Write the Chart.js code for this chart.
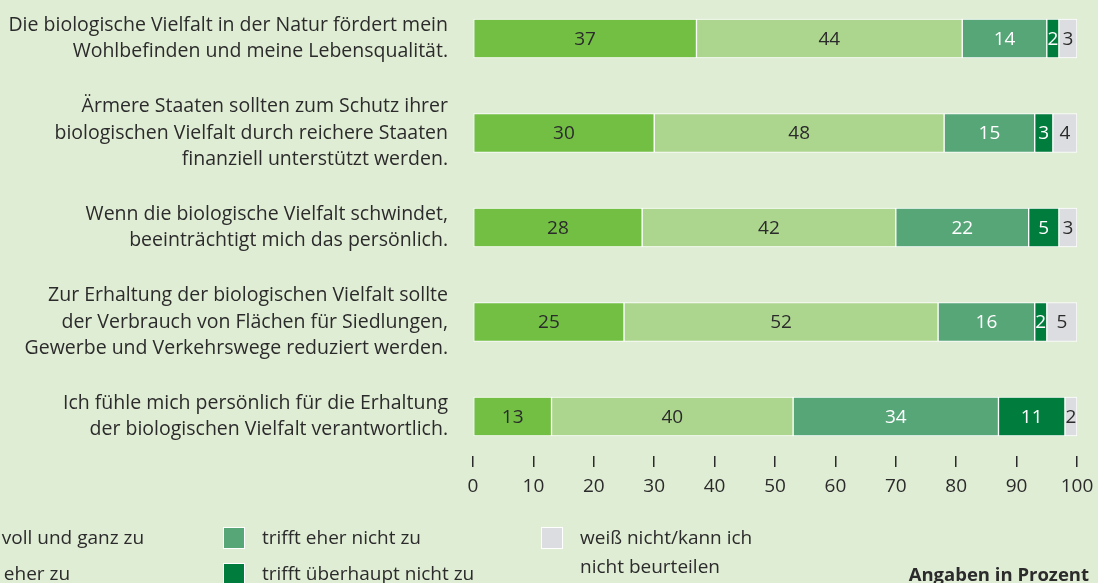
<!DOCTYPE html>
<html>
<head>
<meta charset="utf-8">
<script src="https://cdn.jsdelivr.net/npm/chart.js@4.4.1/dist/chart.umd.min.js"></script>
<style>
  html, body { margin: 0; padding: 0; background: #e0edd5; overflow: hidden; }
  #wrap { position: relative; width: 1098px; height: 583px; }
  #myChart { position: absolute; left: 0; top: 0; }
  .leg { position: absolute; font-family: "Open Sans", sans-serif; font-size: 19px; color: #2b2b2b; line-height: 29px; }
  .leg .box { position: absolute; left: 0; top: 2px; width: 20px; height: 20px; border: 1px solid #fff; }
  .leg .txt { position: absolute; left: 39px; top: -2px; white-space: nowrap; }
  #unit { position: absolute; right: 9px; top: 563px; font-family: "Open Sans", sans-serif; font-size: 18.5px; font-weight: bold; color: #2b2b2b; line-height: 22px; }
</style>
</head>
<body>
<div id="wrap">
  <canvas id="myChart" width="1098" height="583"></canvas>
  <div id="legend"></div>
  <div id="unit">Angaben in Prozent</div>
</div>
<script>
const statements = [
    ['Die biologische Vielfalt in der Natur fördert mein', 'Wohlbefinden und meine Lebensqualität.'],
    ['Ärmere Staaten sollten zum Schutz ihrer', 'biologischen Vielfalt durch reichere Staaten', 'finanziell unterstützt werden.'],
    ['Wenn die biologische Vielfalt schwindet,', 'beeinträchtigt mich das persönlich.'],
    ['Zur Erhaltung der biologischen Vielfalt sollte', 'der Verbrauch von Flächen für Siedlungen,', 'Gewerbe und Verkehrswege reduziert werden.'],
    ['Ich fühle mich persönlich für die Erhaltung', 'der biologischen Vielfalt verantwortlich.']
];

const answers = [
    'trifft voll und ganz zu',
    'trifft eher zu',
    'trifft eher nicht zu',
    'trifft überhaupt nicht zu',
    ['weiß nicht/kann ich', 'nicht beurteilen']
];

const vollUndGanz     = [37, 30, 28, 25, 13];
const eherZu          = [44, 48, 42, 52, 40];
const eherNicht       = [14, 15, 22, 16, 34];
const ueberhauptNicht = [2, 3, 5, 2, 11];
const weissNicht      = [3, 4, 3, 5, 2];

const xTicks = [0, 10, 20, 30, 40, 50, 60, 70, 80, 90, 100];

// styling
const fills = ['#72bf44', '#acd58e', '#56a678', '#007c3c', '#dcdde0'];
const labelColors = ['#2b2b2b', '#2b2b2b', '#ffffff', '#ffffff', '#2b2b2b'];
const legendPos = [
    [-81, 525], [-79, 561], [223, 525], [223, 561], [541, 525]
];
const FONT = '"Open Sans", sans-serif';

const series = [vollUndGanz, eherZu, eherNicht, ueberhauptNicht, weissNicht];

const data = {
    labels: statements,
    datasets: series.map((vals, i) => ({
        label: Array.isArray(answers[i]) ? answers[i].join(' ') : answers[i],
        data: vals,
        backgroundColor: fills[i],
        borderColor: '#ffffff',
        borderWidth: 1,
        borderSkipped: false,
        barThickness: 39
    }))
};

// draws the numbers inside each segment
const segmentLabels = {
    id: 'segmentLabels',
    afterDatasetsDraw(chart) {
        const ctx = chart.ctx;
        ctx.save();
        ctx.font = '19px ' + FONT;
        ctx.textAlign = 'center';
        ctx.textBaseline = 'middle';
        chart.data.datasets.forEach((ds, di) => {
            const meta = chart.getDatasetMeta(di);
            ctx.fillStyle = labelColors[di];
            meta.data.forEach((el, i) => {
                ctx.fillText(String(ds.data[i]), (el.x + el.base) / 2, el.y + 1);
            });
        });
        ctx.restore();
    }
};

const config = {
    type: 'bar',
    data: data,
    options: {
        indexAxis: 'y',
        responsive: false,
        animation: false,
        layout: {
            padding: { top: 0, right: 21, bottom: 0, left: 0 }
        },
        scales: {
            x: {
                stacked: true,
                min: 0,
                max: 100,
                afterBuildTicks: (scale) => {
                    scale.ticks = xTicks.map(v => ({ value: v }));
                },
                afterFit: (scale) => {
                    scale.height = 127;
                    scale.paddingLeft = 0;
                    scale.paddingRight = 0;
                },
                grid: {
                    drawOnChartArea: false,
                    drawTicks: true,
                    tickLength: 11,
                    color: '#2b2b2b',
                    lineWidth: 1.5
                },
                border: { display: false },
                ticks: {
                    color: '#2b2b2b',
                    font: { family: FONT, size: 19 },
                    padding: 8,
                    maxRotation: 0
                }
            },
            y: {
                stacked: true,
                // put bar centres where the picture has them, leave room above the tick marks
                afterBuildTicks: (scale) => {
                    scale._startValue = -0.407;
                    scale._valueRange = 4.825;
                },
                afterFit: (scale) => {
                    scale.width = 473;
                    scale.paddingTop = 0;
                    scale.paddingBottom = 0;
                },
                grid: { display: false, drawTicks: false },
                border: { display: false },
                ticks: {
                    color: '#2b2b2b',
                    font: { family: FONT, size: 19.5, lineHeight: 1.37 },
                    padding: 25,
                    autoSkip: false
                }
            }
        },
        plugins: {
            legend: { display: false },
            tooltip: { enabled: false }
        }
    },
    plugins: [segmentLabels]
};

const chart = new Chart(document.getElementById('myChart'), config);

// legend, partly cut at the left edge like the original
const legendEl = document.getElementById('legend');
answers.forEach((a, i) => {
    const item = document.createElement('div');
    item.className = 'leg';
    item.style.left = legendPos[i][0] + 'px';
    item.style.top = legendPos[i][1] + 'px';
    const box = document.createElement('div');
    box.className = 'box';
    box.style.background = fills[i];
    const txt = document.createElement('div');
    txt.className = 'txt';
    txt.innerHTML = (Array.isArray(a) ? a : [a]).join('<br>');
    item.appendChild(box);
    item.appendChild(txt);
    legendEl.appendChild(item);
});
</script>
</body>
</html>
